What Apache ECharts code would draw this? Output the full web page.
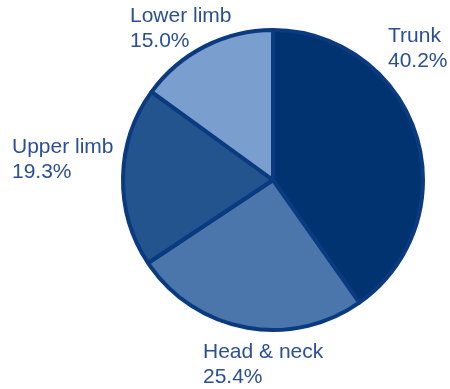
<!DOCTYPE html>
<html><head><meta charset="utf-8">
<script src="https://cdn.jsdelivr.net/npm/echarts@6/dist/echarts.min.js"></script>
<style>html,body{margin:0;padding:0;background:#fff}#c{width:450px;height:389px}</style>
</head><body><div id="c"></div>
<script>
const categories = ['Trunk', 'Head & neck', 'Upper limb', 'Lower limb'];
const values = [40.2, 25.4, 19.3, 15.0];
const colors = ['#00336f', '#4a76ab', '#24548e', '#7a9fcf'];
const labelPos = [[388, 24], [203, 340], [12, 135], [130, 4]];

const chart = echarts.init(document.getElementById('c'), null, {renderer: 'canvas'});
chart.setOption({
  animation: false,
  series: [{
    type: 'pie',
    center: [273, 180],
    radius: 150,
    startAngle: 90,
    clockwise: true,
    data: categories.map((n, i) => ({name: n, value: values[i], itemStyle: {color: colors[i]}})),
    itemStyle: {borderColor: '#0a3a80', borderWidth: 4},
    label: {
      show: true,
      formatter: p => p.name + '\n' + p.value.toFixed(1) + '%',
      color: '#2b4f96',
      fontFamily: 'Liberation Sans',
      fontSize: 21,
      lineHeight: 25,
      align: 'left',
      overflow: 'none',
      width: 200
    },
    labelLine: {show: false},
    labelLayout: function (params) {
      const p = labelPos[params.dataIndex];
      return {x: p[0], y: p[1], align: 'left', verticalAlign: 'top'};
    },
    emphasis: {disabled: true}
  }]
});
</script></body></html>
